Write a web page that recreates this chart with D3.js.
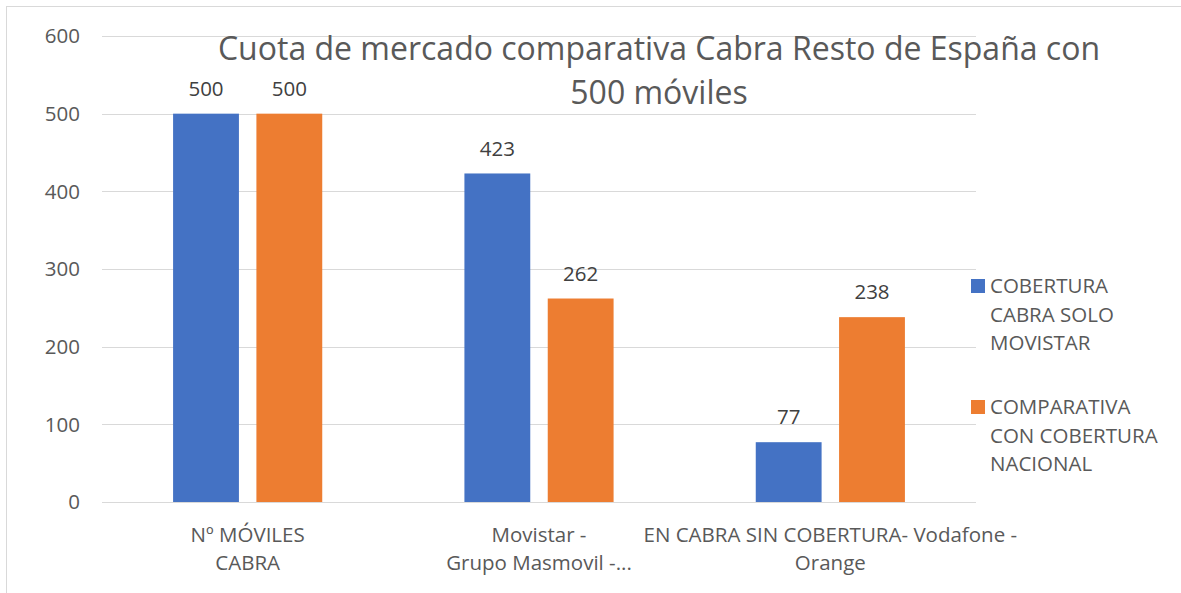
<!DOCTYPE html>
<html>
<head>
<meta charset="utf-8">
<script src="https://d3js.org/d3.v7.min.js"></script>
<style>
  body { margin: 0; background: #fff; }
  text { font-family: "Open Sans", sans-serif; }
</style>
</head>
<body>
<div id="chart"></div>
<script>
// data
var categories = [
  ["Nº MÓVILES", "CABRA"],
  ["Movistar -", "Grupo Masmovil -..."],
  ["EN CABRA SIN COBERTURA- Vodafone -", "Orange"]
];
var seriesNames = [
  ["COBERTURA", "CABRA SOLO", "MOVISTAR"],
  ["COMPARATIVA", "CON COBERTURA", "NACIONAL"]
];
var cobertura = [500, 423, 77];
var comparativa = [500, 262, 238];
var yTicks = [0, 100, 200, 300, 400, 500, 600];
var titleLines = ["Cuota de mercado comparativa Cabra Resto de España con", "500 móviles"];

var colors = ["#4472c4", "#ed7d31"];
var W = 1181, H = 593;
var plot = {left: 102, right: 976, top: 36, bottom: 502};
var fs = 20.5;

var svg = d3.select("#chart").append("svg")
  .attr("width", W).attr("height", H);

// chart frame
svg.append("rect")
  .attr("x", 6.5).attr("y", 6.5)
  .attr("width", W + 10).attr("height", H + 10)
  .attr("fill", "#fff").attr("stroke", "#d9d9d9");

var y = d3.scaleLinear().domain([0, 600]).range([plot.bottom, plot.top]);
var x = d3.scaleBand().domain(d3.range(categories.length))
  .range([plot.left, plot.right]).paddingInner(0).paddingOuter(0);

var band = x.bandwidth();
var barW = band * 0.226, gap = band * 0.06;

// gridlines
svg.append("g").selectAll("line").data(yTicks).enter().append("line")
  .attr("x1", plot.left).attr("x2", plot.right)
  .attr("y1", function(d) { return Math.round(y(d)) + 0.5; })
  .attr("y2", function(d) { return Math.round(y(d)) + 0.5; })
  .attr("stroke", "#d9d9d9").attr("stroke-width", 1);

// y tick labels
svg.append("g").selectAll("text").data(yTicks).enter().append("text")
  .attr("x", 80).attr("y", function(d) { return y(d); })
  .attr("dy", "0.35em")
  .attr("text-anchor", "end")
  .attr("font-size", fs + "px").attr("fill", "#595959")
  .text(function(d) { return d; });

var series = [cobertura, comparativa];
series.forEach(function(vals, s) {
  var g = svg.append("g");
  var bx = function(i) {
    var c = x(i) + band / 2;
    return s === 0 ? c - gap / 2 - barW : c + gap / 2;
  };
  g.selectAll("rect").data(vals).enter().append("rect")
    .attr("x", function(d, i) { return bx(i); })
    .attr("y", function(d) { return y(d); })
    .attr("width", barW)
    .attr("height", function(d) { return y(0) - y(d); })
    .attr("fill", colors[s]);
  g.selectAll("text").data(vals).enter().append("text")
    .attr("x", function(d, i) { return bx(i) + barW / 2; })
    .attr("y", function(d) { return y(d) - 25; })
    .attr("dy", "0.35em")
    .attr("text-anchor", "middle")
    .attr("font-size", fs + "px").attr("fill", "#404040")
    .text(function(d) { return d; });
});

// category labels
categories.forEach(function(lines, i) {
  var t = svg.append("text")
    .attr("text-anchor", "middle")
    .attr("font-size", fs + "px").attr("fill", "#595959");
  lines.forEach(function(l, k) {
    t.append("tspan")
      .attr("x", x(i) + band / 2)
      .attr("y", 535 + k * 28)
      .attr("dy", "0.35em")
      .text(l);
  });
});

// title
var title = svg.append("text")
  .attr("text-anchor", "middle")
  .attr("font-size", "32px").attr("fill", "#595959");
titleLines.forEach(function(l, k) {
  title.append("tspan")
    .attr("x", 659).attr("y", 49 + k * 44)
    .attr("dy", "0.35em")
    .text(l);
});

// legend
seriesNames.forEach(function(lines, s) {
  var ly = 286 + s * 121;
  svg.append("rect")
    .attr("x", 971).attr("y", ly - 7)
    .attr("width", 14).attr("height", 14)
    .attr("fill", colors[s]);
  var t = svg.append("text")
    .attr("font-size", fs + "px").attr("fill", "#595959");
  lines.forEach(function(l, k) {
    t.append("tspan")
      .attr("x", 990).attr("y", ly + k * 28.5)
      .attr("dy", "0.35em")
      .text(l);
  });
});
</script>
</body>
</html>
